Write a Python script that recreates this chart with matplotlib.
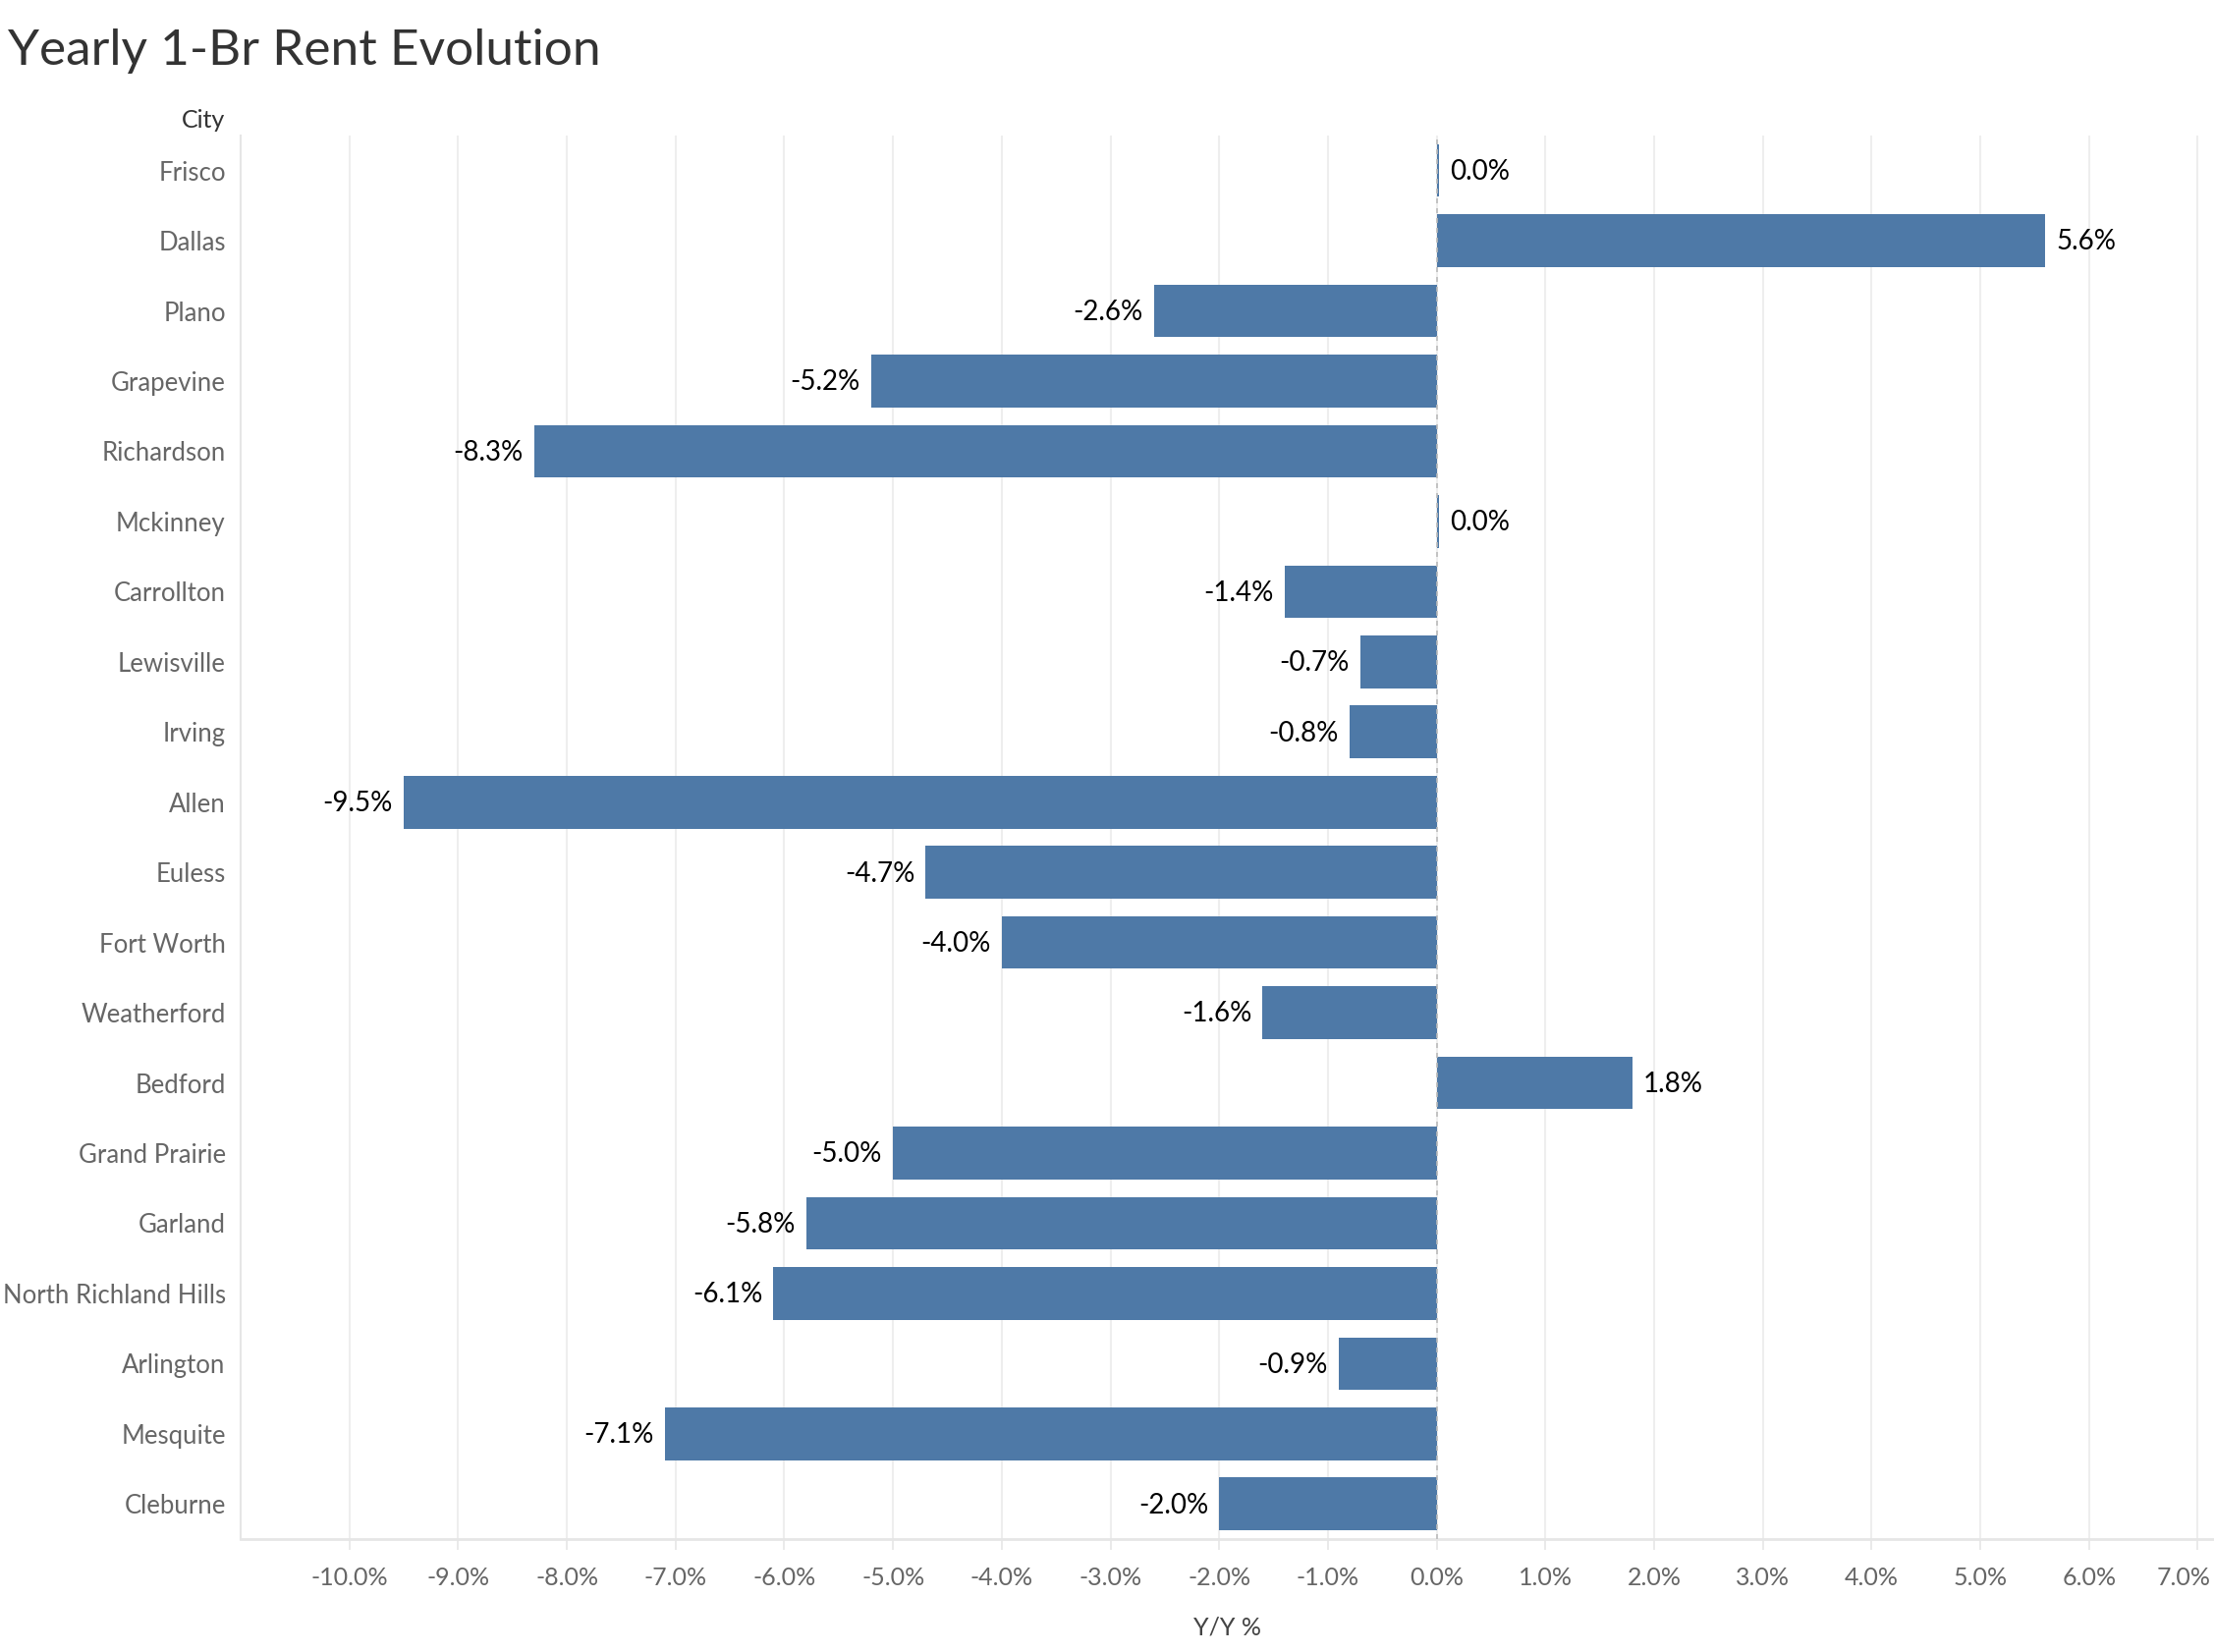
import matplotlib
matplotlib.use("Agg")
import matplotlib.pyplot as plt
import matplotlib.transforms as mtransforms
from matplotlib.ticker import FuncFormatter

cities = ["Frisco", "Dallas", "Plano", "Grapevine", "Richardson", "Mckinney",
          "Carrollton", "Lewisville", "Irving", "Allen", "Euless", "Fort Worth",
          "Weatherford", "Bedford", "Grand Prairie", "Garland",
          "North Richland Hills", "Arlington", "Mesquite", "Cleburne"]
yoy = [0.02, 5.6, -2.6, -5.2, -8.3, 0.02, -1.4, -0.7, -0.8, -9.5, -4.7, -4.0,
       -1.6, 1.8, -5.0, -5.8, -6.1, -0.9, -7.1, -2.0]
xticks = list(range(-10, 8))

plt.rcParams['font.family'] = ['Lato', 'DejaVu Sans']

fig = plt.figure(figsize=(22.54, 16.82), dpi=100)
ax = fig.add_axes([0.1087, 0.0684, 0.8913, 0.8496])

ypos = list(range(len(cities)))
ax.barh(ypos, yoy, height=0.75, color="#4e79a7", zorder=3)
for y, v in zip(ypos, yoy):
    lab = f"{v:.1f}%"
    if v >= 0:
        ax.annotate(lab, (v, y), xytext=(8, -1), textcoords="offset points",
                    ha="left", va="center", fontsize=20, color="black")
    else:
        ax.annotate(lab, (v, y), xytext=(-8, -1), textcoords="offset points",
                    ha="right", va="center", fontsize=20, color="black")

ax.set_xlim(-11, 7.15)
ax.set_ylim(len(cities) - 0.5, -0.5)
ax.set_yticks(ypos)
ax.set_yticklabels(cities)
ax.set_xticks(xticks)
ax.xaxis.set_major_formatter(FuncFormatter(lambda v, p: f"{v:.1f}%"))

ax.grid(axis="x", color="#eeeeee", linewidth=1.5, zorder=0)
ax.axvline(0, color="#bbbbbb", linestyle=(0, (3, 3)), linewidth=1.2, zorder=4)

for s in ["top", "right"]:
    ax.spines[s].set_visible(False)
ax.spines["left"].set_color("#e6e6e6")
ax.spines["bottom"].set_color("#e6e6e6")
ax.spines["left"].set_linewidth(1.5)
ax.spines["bottom"].set_linewidth(2)

ax.tick_params(axis="y", length=0, pad=11, labelsize=18.5, labelcolor="#666666")
ax.tick_params(axis="x", length=8, width=1.2, color="#e6e6e6", pad=12,
               labelsize=18, labelcolor="#666666")

# keep the last x tick label inside the figure
fig.canvas.draw()
last = ax.get_xticklabels()[-1]
last.set_transform(last.get_transform() +
                   mtransforms.ScaledTranslation(-14 / 100, 0, fig.dpi_scale_trans))

ax.set_xlabel("Y/Y %", fontsize=18, color="#444444", labelpad=20)

fig.text(229 / 2254, 1 - 122 / 1682, "City", ha="right", va="center",
         fontsize=18, color="#333333")
fig.text(8 / 2254, 1 - 52 / 1682, "Yearly 1-Br Rent Evolution", ha="left",
         va="center", fontsize=37, color="#333333")

fig.savefig("out.png", dpi=100, facecolor="white")
